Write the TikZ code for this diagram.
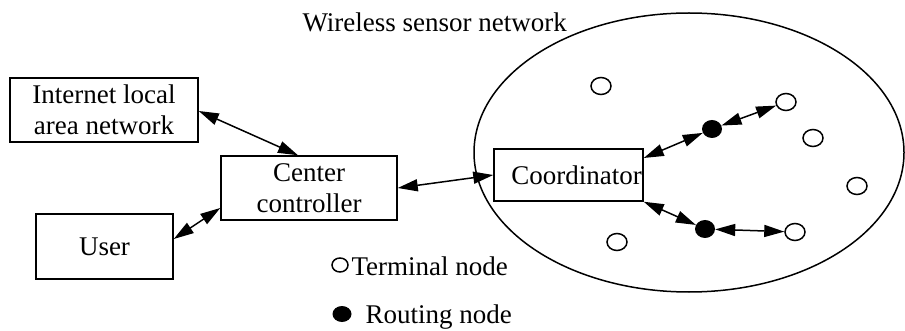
\documentclass[tikz,border=0pt]{standalone}
\usepackage{fontspec}
\setmainfont{Liberation Serif}
\usetikzlibrary{arrows.meta,shapes.geometric}
\begin{document}
\begin{tikzpicture}[x=1pt,y=-1pt,
  every node/.style={font=\fontsize{27}{31.5}\selectfont},
  box/.style={draw,line width=1.5pt,inner sep=0pt,align=center},
  term/.style={draw,ellipse,line width=1.5pt,minimum width=20pt,minimum height=17pt,inner sep=0pt},
  rout/.style={fill=black,ellipse,minimum width=20pt,minimum height=18pt,inner sep=0pt},
  link/.style={line width=1.5pt,{Triangle[length=20pt,width=12pt]}-{Triangle[length=20pt,width=12pt]}}]
\useasboundingbox (0,0) rectangle (905,331);
% boxes
\node[box,minimum width=188pt,minimum height=64pt] (inet) at (104,110) {Internet local\\area network};
\node[box,minimum width=176pt,minimum height=64pt] (ctrl) at (309,188) {Center\\controller};
\node[box,minimum width=137pt,minimum height=65pt] (user) at (104.5,246.5) {User};
% network ellipse
\draw[line width=1.5pt] (689,152.5) ellipse [x radius=215, y radius=139.5];
\node[anchor=base west] (title) at (299,32) {Wireless sensor network};
\node[box,minimum width=149pt,minimum height=52pt] (coord) at (568.5,175) {\hspace{8pt}Coordinator\hspace{-8pt}};
% terminal nodes
\node[term] (t1) at (601,86) {};
\node[term] (t2) at (786,102) {};
\node[term] (t3) at (813,138) {};
\node[term] (t4) at (857,186) {};
\node[term] (t5) at (795,232) {};
\node[term] (t6) at (617,242) {};
% routing nodes
\node[rout] (r1) at (712,129) {};
\node[rout] (r2) at (705,229) {};
% links
\draw[link] (inet.east |- 0,111) -- (ctrl.north -| 298,0);
\draw[link] (user.east |- 0,239) -- (ctrl.west |- 0,208);
\draw[link] (ctrl.east |- 0,188) -- (coord.west |- 0,175);
\draw[link] (coord.north east |- 0,158) -- (r1);
\draw[link] (r1) -- (t2);
\draw[link] (coord.south east) -- (r2);
\draw[link] (r2) -- (t5);
% legend
\node[term,minimum width=16pt,minimum height=14pt] (lt) at (340,265) {};
\node[anchor=base west] (ltext) at (348,276) {Terminal node};
\node[rout,minimum width=19pt,minimum height=16pt] (lr) at (342,314) {};
\node[anchor=base west] (lrtext) at (362,323) {Routing node};
\end{tikzpicture}
\end{document}
